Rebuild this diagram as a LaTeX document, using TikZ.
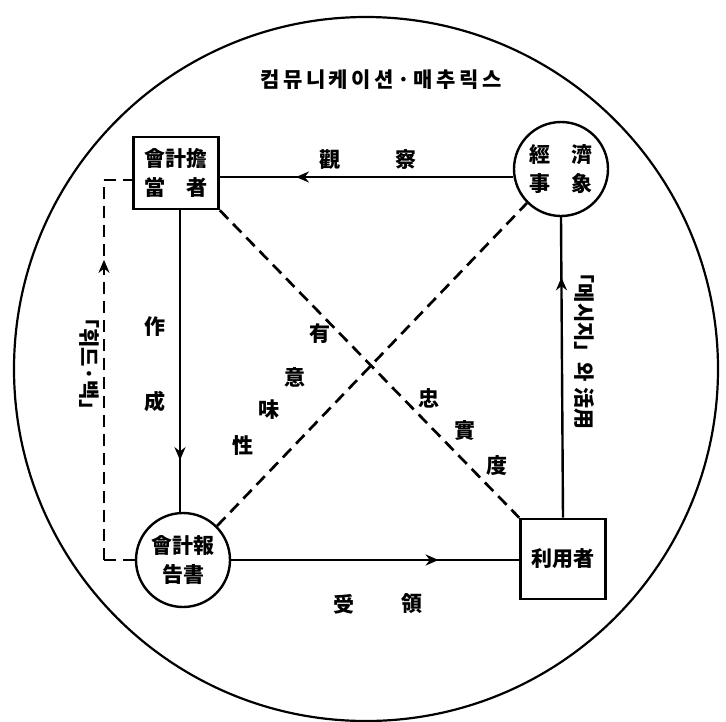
\documentclass[tikz,border=0pt]{standalone}
\usepackage{fontspec}
\setmainfont{Noto Sans CJK KR}
\usetikzlibrary{arrows.meta,decorations.markings}
\tikzset{
  midarrow/.style={postaction={decorate},decoration={markings,
      mark=at position #1 with {\arrow{Stealth[length=13pt,width=11pt]}}}},
  boxnode/.style={draw,line width=2.6pt,minimum width=85pt,minimum height=72pt,
      align=center,font=\bfseries\fontsize{21}{29}\selectfont},
  ballnode/.style={draw,circle,line width=2.4pt,minimum size=94pt,inner sep=0pt,
      align=center,font=\bfseries\fontsize{21}{29}\selectfont},
  lbl/.style={font=\bfseries\fontsize{21}{22}\selectfont},
  flow/.style={line width=2.4pt},
  dash line/.style={line width=2.7pt,dash pattern=on 12pt off 7pt}
}
\begin{document}
\begin{tikzpicture}[x=1pt,y=-1pt]
  \useasboundingbox (0,0) rectangle (726,721);
  % outer circle
  \draw [line width=2.2pt] (366,369) circle (352);
  \node [lbl] (title) at (381,80) {컴\,뮤\,니\,케\,이\,션\,·\,매\,추\,릭\,스};

  % the four parties
  \node [boxnode] (acct) at (176,173) {會計擔\\當\hspace{1em}者};
  \node [ballnode] (econ) at (561,169) {經\hspace{1em}濟\\事\hspace{1em}象};
  \node [ballnode] (report) at (183,560) {會計報\\告書};
  \node [boxnode,minimum height=80pt] (user) at (563,559) {利用者};

  % solid flows
  \draw [flow,midarrow=0.74] (econ.west |- 0,177) coordinate (e1) -- (acct.east |- e1);
  \draw [flow,midarrow=0.83] (180,208) coordinate (a1) -- (a1 |- report.north);
  \draw [flow,midarrow=0.72] (report.east) -- (user.west |- report.east);
  \draw [flow,midarrow=0.8] (user.north) -- (econ.south);

  % dashed cross
  \draw [dash line] (acct.south east) -- (user.north west);
  \draw [dash line] (report.45) -- (econ.225);

  % feedback
  \coordinate (fb1) at (104,560);
  \coordinate (fb2) at (104,180);
  \draw [dash line] (report.west) -- (fb1);
  \draw [dash line,midarrow=0.79] (fb1) -- (fb2);
  \draw [dash line] (fb2) -- (acct.west |- fb2);

  % labels
  \node [lbl] (l1) at (330,160) {觀};
  \node [lbl] (l2) at (406,160) {察};
  \node [lbl] (l3) at (155,327) {作};
  \node [lbl] (l4) at (155,401) {成};
  \node [lbl] (l5) at (344,604) {受};
  \node [lbl] (l6) at (412,604) {領};
  \node [lbl] (l7) at (320,334) {有};
  \node [lbl] (l8) at (295,377) {意};
  \node [lbl] (l9) at (269,410) {味};
  \node [lbl] (l10) at (243,446) {性};
  \node [lbl] (l11) at (429,398) {忠};
  \node [lbl] (l12) at (465,431) {實};
  \node [lbl] (l13) at (497,466) {度};
  \node [lbl,rotate=-90] (fbl) at (89,364) {「휘드·백」};
  \node [lbl,rotate=-90] (msg) at (584,346) {「메시지」와 活用};
\end{tikzpicture}
\end{document}
